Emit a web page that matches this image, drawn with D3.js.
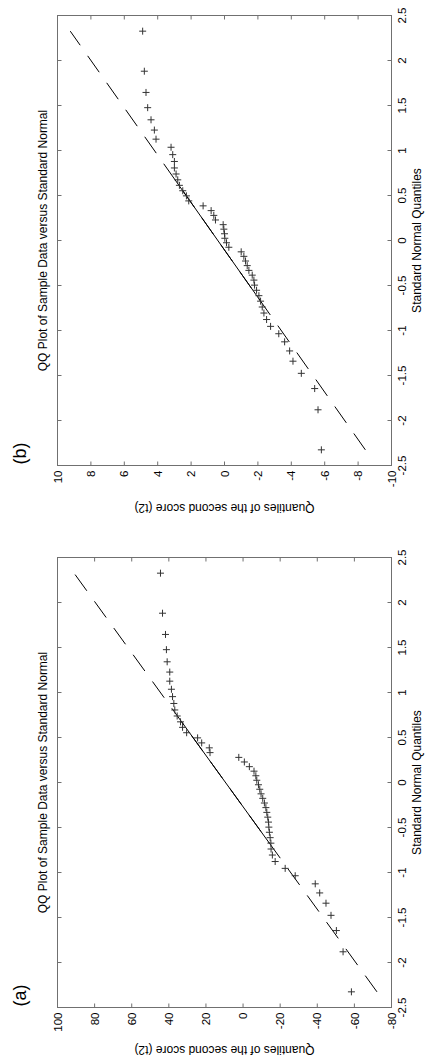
<!DOCTYPE html>
<html>
<head>
<meta charset="utf-8">
<script src="https://cdn.jsdelivr.net/npm/d3@7"></script>
<style>
  body { margin: 0; background: #fff; }
  text { font-family: "Liberation Sans", Arial, sans-serif; fill: #000; }
</style>
</head>
<body>
<div id="chart"></div>
<script>
'use strict';

// standard normal quantiles for n = 50 (shared by both panels)
const normalQ = [
  -2.326, -1.881, -1.645, -1.476, -1.341, -1.227, -1.126, -1.036, -0.954, -0.878,
  -0.806, -0.739, -0.674, -0.613, -0.553, -0.496, -0.440, -0.385, -0.332, -0.279,
  -0.228, -0.176, -0.126, -0.075, -0.025, 0.025, 0.075, 0.126, 0.176, 0.228,
  0.279, 0.332, 0.385, 0.440, 0.496, 0.553, 0.613, 0.674, 0.739, 0.806,
  0.878, 0.954, 1.036, 1.126, 1.227, 1.341, 1.476, 1.645, 1.881, 2.326
];

// sorted sample quantiles, panel (a)
const scoreA = [
  -58.4, -53.9, -50.3, -47.4, -44.7, -41.3, -38.9, -28.1, -22.7, -17.3,
  -15.8, -15.1, -15.0, -14.6, -14.2, -13.9, -13.7, -13.3, -12.8, -12.3,
  -11.5, -10.6, -9.7, -9.0, -8.3, -7.4, -6.9, -5.9, -3.4, -0.7,
  2.3, 17.8, 18.2, 22.3, 24.5, 30.4, 32.6, 33.7, 35.5, 36.8,
  37.3, 38.0, 38.6, 39.5, 39.5, 40.9, 41.3, 41.8, 43.4, 44.5
];

// sorted sample quantiles, panel (b)
const scoreB = [
  -5.8, -5.6, -5.4, -4.6, -4.1, -3.9, -3.6, -3.25, -2.76, -2.52,
  -2.36, -2.26, -2.16, -2.06, -1.92, -1.80, -1.76, -1.66, -1.46, -1.36,
  -1.26, -1.16, -1.0, -0.26, -0.12, -0.02, 0.0, 0.04, 0.08, 0.54,
  0.64, 0.8, 1.28, 2.14, 2.28, 2.5, 2.7, 2.8, 2.9, 3.0,
  3.0, 3.1, 3.2, 4.1, 4.2, 4.4, 4.6, 4.7, 4.8, 4.9
];

// reference line: sample values at the 1st / 3rd quartile of the normal
const quartX = [-0.674, 0.674];
const quartA = [-14.2, 33.1];
const quartB = [-2.16, 2.96];

const xTicks = [-2.5, -2, -1.5, -1, -0.5, 0, 0.5, 1, 1.5, 2, 2.5];
const yTicksA = [100, 80, 60, 40, 20, 0, -20, -40, -60, -80];
const yTicksB = [10, 8, 6, 4, 2, 0, -2, -4, -6, -8, -10];

const titleText = 'QQ Plot of Sample Data versus Standard Normal';
const xLabel = 'Standard Normal Quantiles';
const yLabel = 'Quantiles of the second score (t2)';

// page is the original landscape figure turned a quarter turn
const W = 425, H = 1064;

const svg = d3.select('#chart').append('svg')
  .attr('width', W)
  .attr('height', H);

const fig = svg.append('g')
  .attr('transform', `translate(0,${H}) rotate(-90)`);

const panels = [
  { tag: '(a)', left: 56.5, values: scoreA, quart: quartA, yTicks: yTicksA, yDomain: [-80, 100] },
  { tag: '(b)', left: 598.5, values: scoreB, quart: quartB, yTicks: yTicksB, yDomain: [-10, 10] }
];

const pw = 450, plotTop = 57.5, plotBottom = 391.5;
const tickLen = 4;
const frameColor = '#707070';

panels.forEach(p => {
  const x = d3.scaleLinear().domain([-2.5, 2.5]).range([p.left, p.left + pw]);
  const y = d3.scaleLinear().domain(p.yDomain).range([plotBottom, plotTop]);
  const g = fig.append('g');

  // reference line (dashed over data range, solid between quartiles)
  const slope = (p.quart[1] - p.quart[0]) / (quartX[1] - quartX[0]);
  const fit = q => p.quart[0] + slope * (q - quartX[0]);
  const qMin = d3.min(normalQ), qMax = d3.max(normalQ);

  g.append('line')
    .attr('x1', x(qMin)).attr('y1', y(fit(qMin)))
    .attr('x2', x(qMax)).attr('y2', y(fit(qMax)))
    .attr('stroke', '#000')
    .attr('stroke-width', 1)
    .attr('stroke-dasharray', '20,13');

  g.append('line')
    .attr('x1', x(quartX[0])).attr('y1', y(p.quart[0]))
    .attr('x2', x(quartX[1])).attr('y2', y(p.quart[1]))
    .attr('stroke', '#000')
    .attr('stroke-width', 1);

  // plus markers
  const s = 3.5;
  g.selectAll('path.pt')
    .data(normalQ.map((q, i) => [q, p.values[i]]))
    .enter()
    .append('path')
    .attr('class', 'pt')
    .attr('d', d => {
      const cx = x(d[0]), cy = y(d[1]);
      return `M${cx - s},${cy}H${cx + s}M${cx},${cy - s}V${cy + s}`;
    })
    .attr('stroke', '#333')
    .attr('stroke-width', 1)
    .attr('fill', 'none');

  // frame
  g.append('rect')
    .attr('x', p.left).attr('y', plotTop)
    .attr('width', pw).attr('height', plotBottom - plotTop)
    .attr('fill', 'none')
    .attr('stroke', frameColor)
    .attr('stroke-width', 1);

  // inward ticks on all four sides
  xTicks.forEach(t => {
    g.append('line').attr('x1', x(t)).attr('x2', x(t))
      .attr('y1', plotBottom).attr('y2', plotBottom - tickLen)
      .attr('stroke', frameColor);
    g.append('line').attr('x1', x(t)).attr('x2', x(t))
      .attr('y1', plotTop).attr('y2', plotTop + tickLen)
      .attr('stroke', frameColor);
  });
  p.yTicks.forEach(t => {
    g.append('line').attr('x1', p.left).attr('x2', p.left + tickLen)
      .attr('y1', y(t)).attr('y2', y(t))
      .attr('stroke', frameColor);
    g.append('line').attr('x1', p.left + pw).attr('x2', p.left + pw - tickLen)
      .attr('y1', y(t)).attr('y2', y(t))
      .attr('stroke', frameColor);
  });

  // tick labels
  g.selectAll('text.xt')
    .data(xTicks)
    .enter()
    .append('text')
    .attr('class', 'xt')
    .attr('x', d => x(d))
    .attr('y', plotBottom + 14)
    .attr('text-anchor', 'middle')
    .attr('font-size', '11.5px')
    .text(d => d);

  g.selectAll('text.yt')
    .data(p.yTicks)
    .enter()
    .append('text')
    .attr('class', 'yt')
    .attr('x', p.left - 5)
    .attr('y', d => y(d))
    .attr('dy', '0.36em')
    .attr('text-anchor', 'end')
    .attr('font-size', '11.5px')
    .text(d => d);

  // titles and labels
  g.append('text')
    .attr('x', p.left + pw / 2)
    .attr('y', 47)
    .attr('text-anchor', 'middle')
    .attr('font-size', '12px')
    .text(titleText);

  g.append('text')
    .attr('x', p.left + pw / 2)
    .attr('y', 421)
    .attr('text-anchor', 'middle')
    .attr('font-size', '12px')
    .text(xLabel);

  g.append('text')
    .attr('transform', `translate(${p.left - 38},${(plotTop + plotBottom) / 2}) rotate(-90)`)
    .attr('text-anchor', 'middle')
    .attr('font-size', '12px')
    .text(yLabel);

  g.append('text')
    .attr('x', p.left + 1)
    .attr('y', 26)
    .attr('font-size', '18px')
    .text(p.tag);
});
</script>
</body>
</html>
